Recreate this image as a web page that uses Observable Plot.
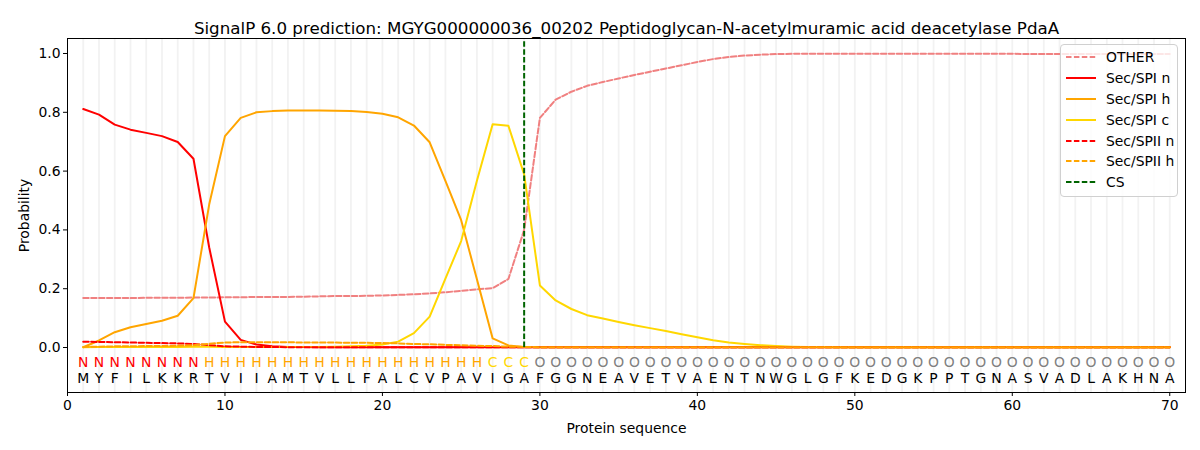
<!DOCTYPE html>
<html>
<head>
<meta charset="utf-8">
<script src="https://cdn.jsdelivr.net/npm/d3@7"></script>
<script src="https://cdn.jsdelivr.net/npm/@observablehq/plot@0.6"></script>
<style>
  body { margin: 0; background: white; font-family: "DejaVu Sans", sans-serif; }
  #wrap { position: relative; width: 1200px; height: 450px; }
  #legend { position: absolute; left: 1060px; top: 44px; width: 116px; padding: 2px 0 3px 0;
    border: 1px solid #d0d0d0; border-radius: 4px; background: rgba(255,255,255,0.8);
    font-size: 13.9px; color: #000; }
  .li { display: flex; align-items: center; height: 20.8px; }
  .li svg { margin-left: 5px; margin-right: 10px; }
</style>
</head>
<body>
<div id="wrap"><div id="chart"></div><div id="legend"></div></div>
<script>
const title = "SignalP 6.0 prediction: MGYG000000036_00202 Peptidoglycan-N-acetylmuramic acid deacetylase PdaA";
const sequence = "MYFILKKRTVIIAMTVLLFALCVPAVIGAFGGNEAVETVAENTNWGLGFKEDGKPPTGNASVADLAKHNA".split("");
const regionLabels = "NNNNNNNNHHHHHHHHHHHHHHHHHHCCCOOOOOOOOOOOOOOOOOOOOOOOOOOOOOOOOOOOOOOOOO".split("");
const positions = sequence.map((_, i) => i + 1);
const xTicks = [0, 10, 20, 30, 40, 50, 60, 70];
const yTicks = [0, 0.2, 0.4, 0.6, 0.8, 1.0];
const csPosition = 29;

const other = [
  0.168,0.168,0.168,0.168,0.169,0.169,0.169,0.170,0.170,0.171,
  0.171,0.172,0.172,0.172,0.173,0.174,0.175,0.175,0.176,0.177,
  0.179,0.181,0.184,0.188,0.193,0.198,0.202,0.233,0.400,0.781,
  0.843,0.870,0.890,0.903,0.915,0.927,0.938,0.949,0.960,0.971,
  0.981,0.988,0.993,0.996,0.998,0.999,0.999,0.999,0.999,0.999,
  0.999,0.999,0.999,0.999,0.999,0.999,0.999,0.999,0.999,0.999,
  0.998,0.998,0.998,0.998,0.998,0.998,0.998,0.998,0.998,0.998
];
const spiN = [
  0.811,0.792,0.758,0.741,0.730,0.719,0.699,0.642,0.340,0.088,
  0.026,0.010,0.004,0.002,0.002,0.001,0.001,0.001,0.001,0.001,
  0.001,0.001,0.001,0.001,0.001,0.001,0.001,0.001,0.001,0.001,
  0.001,0.001,0.001,0.001,0.001,0.001,0.001,0.001,0.001,0.001,
  0.001,0.001,0.001,0.001,0.001,0.001,0.001,0.001,0.001,0.001,
  0.001,0.001,0.001,0.001,0.001,0.001,0.001,0.001,0.001,0.001,
  0.001,0.001,0.001,0.001,0.001,0.001,0.001,0.001,0.001,0.001
];
const spiH = [
  0.001,0.024,0.052,0.069,0.080,0.091,0.108,0.168,0.487,0.719,
  0.781,0.800,0.804,0.806,0.806,0.806,0.805,0.804,0.801,0.795,
  0.783,0.755,0.698,0.567,0.433,0.232,0.031,0.007,0.002,0.001,
  0.001,0.001,0.001,0.001,0.001,0.001,0.001,0.001,0.001,0.001,
  0.001,0.001,0.001,0.001,0.001,0.001,0.001,0.001,0.001,0.001,
  0.001,0.001,0.001,0.001,0.001,0.001,0.001,0.001,0.001,0.001,
  0.001,0.001,0.001,0.001,0.001,0.001,0.001,0.001,0.001,0.001
];
const spiC = [
  0.001,0.002,0.002,0.002,0.002,0.002,0.002,0.003,0.003,0.002,
  0.002,0.002,0.002,0.002,0.002,0.002,0.003,0.004,0.006,0.010,
  0.020,0.049,0.105,0.234,0.362,0.567,0.759,0.754,0.589,0.211,
  0.160,0.131,0.110,0.099,0.087,0.076,0.066,0.056,0.045,0.035,
  0.025,0.017,0.012,0.008,0.005,0.003,0.002,0.002,0.001,0.001,
  0.001,0.001,0.001,0.001,0.001,0.001,0.001,0.001,0.001,0.001,
  0.001,0.001,0.001,0.001,0.001,0.001,0.001,0.001,0.001,0.001
];
const spiiN = [
  0.020,0.019,0.018,0.017,0.016,0.015,0.014,0.012,0.008,0.004,
  0.003,0.002,0.002,0.001,0.001,0.001,0.001,0.001,0.001,0.001,
  0.001,0.001,0.001,0.001,0.001,0.001,0.001,0.001,0.001,0.001,
  0.001,0.001,0.001,0.001,0.001,0.001,0.001,0.001,0.001,0.001,
  0.001,0.001,0.001,0.001,0.001,0.001,0.001,0.001,0.001,0.001,
  0.001,0.001,0.001,0.001,0.001,0.001,0.001,0.001,0.001,0.001,
  0.001,0.001,0.001,0.001,0.001,0.001,0.001,0.001,0.001,0.001
];
const spiiH = [
  0.002,0.003,0.004,0.004,0.005,0.005,0.006,0.008,0.013,0.017,
  0.018,0.018,0.018,0.018,0.017,0.017,0.017,0.016,0.016,0.015,
  0.014,0.012,0.011,0.009,0.008,0.006,0.005,0.003,0.002,0.001,
  0.001,0.001,0.001,0.001,0.001,0.001,0.001,0.001,0.001,0.001,
  0.001,0.001,0.001,0.001,0.001,0.001,0.001,0.001,0.001,0.001,
  0.001,0.001,0.001,0.001,0.001,0.001,0.001,0.001,0.001,0.001,
  0.001,0.001,0.001,0.001,0.001,0.001,0.001,0.001,0.001,0.001
];

const DASH = "5.5,2.4";
const series = [
  {name: "OTHER", values: other, color: "#f08080", dash: DASH},
  {name: "Sec/SPI n", values: spiN, color: "#ff0000", dash: null},
  {name: "Sec/SPI h", values: spiH, color: "#ffa500", dash: null},
  {name: "Sec/SPI c", values: spiC, color: "#ffd700", dash: null},
  {name: "Sec/SPII n", values: spiiN, color: "#ff0000", dash: DASH},
  {name: "Sec/SPII h", values: spiiH, color: "#ffa500", dash: DASH}
];
const labelColors = {N: "#ff0000", H: "#ffa500", C: "#ffd700", O: "#808080"};

const lineMarks = series.map(s =>
  Plot.line(positions.map((p, i) => ({x: p, y: s.values[i]})), {
    x: "x", y: "y", stroke: s.color, strokeWidth: 2,
    strokeDasharray: s.dash || undefined
  })
);

const chart = Plot.plot({
  width: 1200, height: 450,
  marginLeft: 67, marginRight: 15, marginTop: 38, marginBottom: 58,
  style: {fontFamily: "DejaVu Sans", fontSize: "13.9px", color: "#000", background: "white"},
  x: {domain: [0, 71]},
  y: {domain: [-0.153, 1.051]},
  color: {type: "identity"},
  marks: [
    Plot.ruleX(positions, {x: d => d, stroke: "#f2f2f2", strokeWidth: 1.8}),
    ...lineMarks,
    Plot.ruleX([csPosition], {x: d => d, y1: 0, y2: 1.04, stroke: "#006400", strokeWidth: 2, strokeDasharray: DASH}),
    Plot.text(positions, {x: d => d, y: () => -0.05, text: (d, i) => regionLabels[i], fill: (d, i) => labelColors[regionLabels[i]], fontSize: 13.9}),
    Plot.text(positions, {x: d => d, y: () => -0.104, text: (d, i) => sequence[i], fill: "#000", fontSize: 13.9}),
    Plot.frame({stroke: "#000"}),
    Plot.axisX({ticks: xTicks, tickFormat: "d", tickSize: 4, tickPadding: 4, label: "Protein sequence", labelAnchor: "center", labelArrow: "none", labelOffset: 40}),
    Plot.axisY({ticks: yTicks, tickFormat: ".1f", tickSize: 4, tickPadding: 3, label: "Probability", labelAnchor: "center", labelArrow: "none", labelOffset: 48}),
    Plot.text([title], {frameAnchor: "top", dy: -16, fontSize: 16.7, fill: "#000"})
  ]
});
document.getElementById("chart").appendChild(chart);

const legendItems = [...series, {name: "CS", color: "#006400", dash: DASH}];
const legend = document.getElementById("legend");
for (const s of legendItems) {
  const row = document.createElement("div");
  row.className = "li";
  row.innerHTML = `<svg width="30" height="6"><line x1="0" y1="3" x2="30" y2="3" stroke="${s.color}" stroke-width="2" ${s.dash ? `stroke-dasharray="${s.dash}"` : ""}/></svg><span>${s.name}</span>`;
  legend.appendChild(row);
}
</script>
</body>
</html>
